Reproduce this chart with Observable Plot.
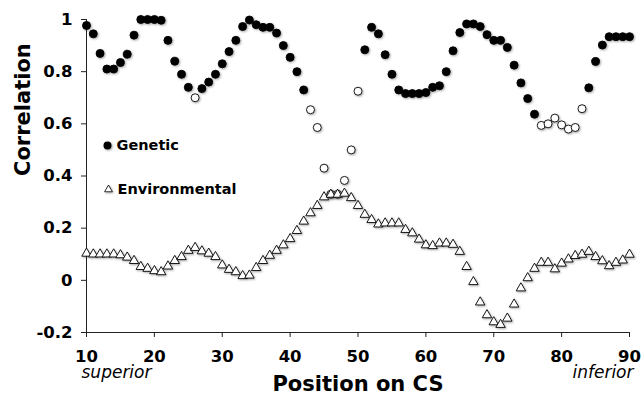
<!DOCTYPE html>
<html>
<head>
<meta charset="utf-8">
<script src="https://cdn.jsdelivr.net/npm/d3@7"></script>
<script src="https://cdn.jsdelivr.net/npm/@observablehq/plot@0.6"></script>
<style>
  html, body { margin: 0; padding: 0; background: #fff; }
  #chart svg g[aria-label="dot"] { filter: drop-shadow(1px 1.5px 1px rgba(0,0,0,0.35)); }
</style>
</head>
<body>
<div id="chart"></div>
<script>
// Position along the central sulcus (CS)
const positions = [10,11,12,13,14,15,16,17,18,19,20,21,22,23,24,25,26,27,28,29,30,
  31,32,33,34,35,36,37,38,39,40,41,42,43,44,45,46,47,48,49,50,
  51,52,53,54,55,56,57,58,59,60,61,62,63,64,65,66,67,68,69,70,
  71,72,73,74,75,76,77,78,79,80,81,82,83,84,85,86,87,88,89,90];

// Genetic correlation
const genetic = [0.977,0.945,0.87,0.81,0.81,0.835,0.867,0.94,1.0,1.0,1.0,0.997,0.92,0.84,0.79,0.74,0.70,0.735,0.76,0.79,0.83,
  0.877,0.92,0.973,0.998,0.98,0.97,0.97,0.948,0.90,0.855,0.80,0.73,0.654,0.586,0.43,0.33,0.33,0.383,0.50,0.725,
  0.884,0.97,0.945,0.865,0.79,0.73,0.716,0.716,0.716,0.72,0.74,0.746,0.80,0.88,0.95,0.983,0.983,0.973,0.942,0.92,
  0.92,0.893,0.825,0.757,0.697,0.637,0.594,0.60,0.622,0.596,0.58,0.586,0.658,0.738,0.839,0.902,0.934,0.934,0.934,0.934];

// Positions where the genetic correlation is drawn as an open circle
const openPositions = [26,43,44,45,46,47,48,49,50,77,78,79,80,81,82,83];

// Environmental correlation
const environmental = [0.103,0.10,0.10,0.10,0.10,0.097,0.088,0.075,0.052,0.045,0.036,0.032,0.054,0.075,0.09,0.114,0.125,0.112,0.103,0.09,0.058,
  0.041,0.032,0.017,0.019,0.048,0.075,0.095,0.114,0.135,0.159,0.19,0.226,0.258,0.286,0.319,0.329,0.329,0.333,0.316,0.286,
  0.252,0.232,0.215,0.219,0.219,0.219,0.194,0.181,0.157,0.135,0.132,0.142,0.142,0.137,0.11,0.052,-0.006,-0.084,-0.133,-0.16,
  -0.17,-0.146,-0.092,-0.03,0.009,0.045,0.068,0.068,0.043,0.065,0.081,0.094,0.099,0.11,0.09,0.074,0.055,0.068,0.077,0.099];

const xTicks = [10,20,30,40,50,60,70,80,90];
const yTicks = [-0.2,0,0.2,0.4,0.6,0.8,1];
const seriesNames = ["Genetic", "Environmental"];
const xTitle = "Position on CS";
const yTitle = "Correlation";
const endLabels = ["superior", "inferior"];

const gen = positions.map((p, i) => ({pos: p, value: genetic[i], open: openPositions.includes(p)}));
const env = positions.map((p, i) => ({pos: p, value: environmental[i]}));

const font = "DejaVu Sans, Verdana, sans-serif";

const chart = Plot.plot({
  width: 642,
  height: 395,
  marginLeft: 86,
  marginRight: 13,
  marginTop: 19,
  marginBottom: 63,
  style: {fontFamily: font, fontSize: "16px", fontWeight: "bold", color: "#000", background: "#fff"},
  x: {domain: [10, 90]},
  y: {domain: [-0.2, 1]},
  marks: [
    Plot.axisX({ticks: xTicks, tickSize: 5, tickPadding: 13, fontSize: 16.5, fontWeight: "bold", label: null, stroke: "#222"}),
    Plot.axisY({ticks: yTicks, tickSize: 5, tickPadding: 9, fontSize: 16.5, fontWeight: "bold", label: null, stroke: "#222",
      tickFormat: d => String(+d.toFixed(1))}),
    Plot.ruleX([10], {stroke: "#222"}),
    Plot.ruleY([-0.2], {stroke: "#222"}),
    Plot.dot(gen, {x: "pos", y: "value", r: 4, symbol: "circle",
      fill: d => d.open ? "#fff" : "#000", stroke: "#000", strokeWidth: 0.9}),
    Plot.dot(env, {x: "pos", y: "value", r: 3.5, symbol: "triangle",
      fill: "#fff", stroke: "#000", strokeWidth: 0.9}),
    // legend
    Plot.dot([seriesNames[0]], {frameAnchor: "top-left", dx: 21, dy: 126, r: 4, symbol: "circle", fill: "#000"}),
    Plot.text([seriesNames[0]], {frameAnchor: "top-left", dx: 30, dy: 126, lineAnchor: "middle", text: d => d, textAnchor: "start",
      fontSize: 14.5, fontWeight: "bold", fill: "#000"}),
    Plot.dot([seriesNames[1]], {frameAnchor: "top-left", dx: 22, dy: 170, r: 2.9, symbol: "triangle", fill: "#fff", stroke: "#000", strokeWidth: 0.8}),
    Plot.text([seriesNames[1]], {frameAnchor: "top-left", dx: 31, dy: 170, lineAnchor: "middle", text: d => d, textAnchor: "start",
      fontSize: 14.5, fontWeight: "bold", fill: "#000"}),
    // end labels
    Plot.text([endLabels[0]], {frameAnchor: "bottom-left", dx: -5, dy: 40, lineAnchor: "middle", text: d => d, textAnchor: "start",
      fontSize: 17, fontWeight: "normal", fontStyle: "italic", fill: "#000"}),
    Plot.text([endLabels[1]], {frameAnchor: "bottom-right", dx: 4, dy: 40, lineAnchor: "middle", text: d => d, textAnchor: "end",
      fontSize: 17, fontWeight: "normal", fontStyle: "italic", fill: "#000"}),
    // axis titles
    Plot.text([xTitle], {frameAnchor: "bottom", dy: 52, lineAnchor: "middle", text: d => d, fontSize: 21, fontWeight: "bold", fill: "#000"}),
    Plot.text([yTitle], {frameAnchor: "left", dx: -63, rotate: -90, lineAnchor: "middle", text: d => d, fontSize: 21, fontWeight: "bold", fill: "#000"})
  ]
});

document.getElementById("chart").appendChild(chart);
</script>
</body>
</html>
